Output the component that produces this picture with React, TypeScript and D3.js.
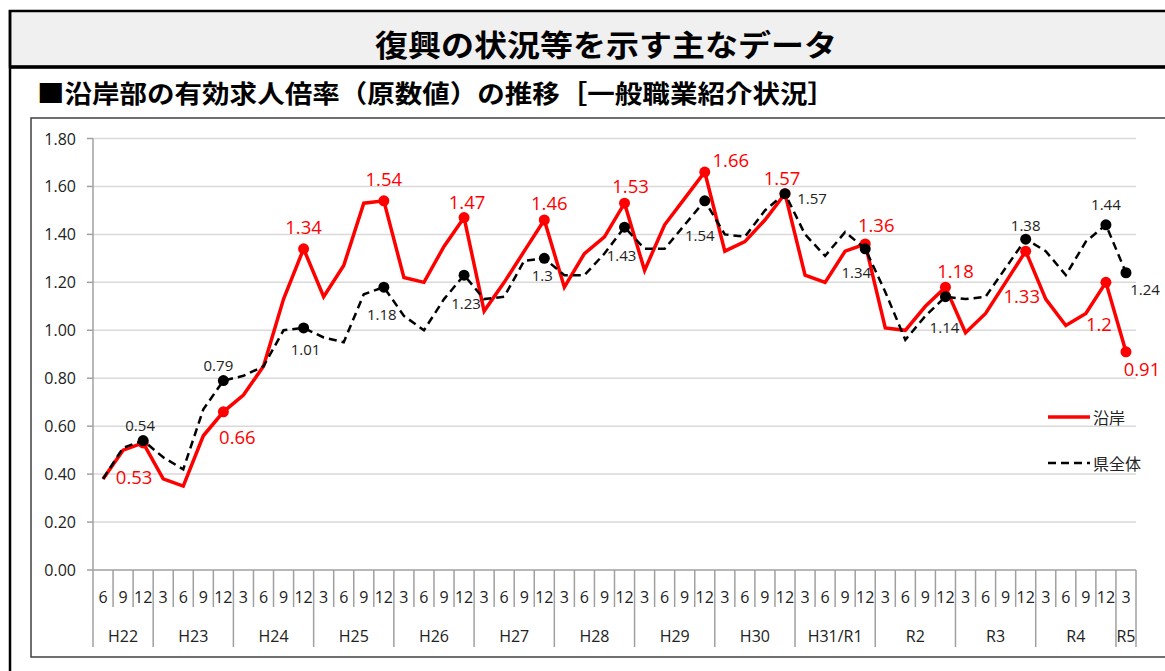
import React from "react";
import * as d3 from "d3";

// quarter labels (month) and fiscal-year groups
const yearNames = ["H22", "H23", "H24", "H25", "H26", "H27", "H28", "H29", "H30", "H31/R1", "R2", "R3", "R4", "R5"];
const yearMonths = [
  ["6", "9", "12"],
  ["3", "6", "9", "12"], ["3", "6", "9", "12"], ["3", "6", "9", "12"], ["3", "6", "9", "12"],
  ["3", "6", "9", "12"], ["3", "6", "9", "12"], ["3", "6", "9", "12"], ["3", "6", "9", "12"],
  ["3", "6", "9", "12"], ["3", "6", "9", "12"], ["3", "6", "9", "12"], ["3", "6", "9", "12"],
  ["3"],
];

// 沿岸
const coastal = [
  0.38, 0.50, 0.53,
  0.38, 0.35, 0.56, 0.66,
  0.73, 0.85, 1.13, 1.34,
  1.14, 1.27, 1.53, 1.54,
  1.22, 1.20, 1.35, 1.47,
  1.08, 1.20, 1.33, 1.46,
  1.18, 1.32, 1.39, 1.53,
  1.25, 1.44, 1.55, 1.66,
  1.33, 1.37, 1.46, 1.57,
  1.23, 1.20, 1.33, 1.36,
  1.01, 1.00, 1.10, 1.18,
  0.99, 1.07, 1.20, 1.33,
  1.13, 1.02, 1.07, 1.20,
  0.91,
];

// 県全体
const prefecture = [
  0.38, 0.51, 0.54,
  0.47, 0.42, 0.67, 0.79,
  0.81, 0.85, 1.00, 1.01,
  0.97, 0.95, 1.15, 1.18,
  1.06, 1.00, 1.13, 1.23,
  1.13, 1.14, 1.29, 1.30,
  1.23, 1.23, 1.32, 1.43,
  1.34, 1.34, 1.44, 1.54,
  1.40, 1.39, 1.50, 1.57,
  1.40, 1.31, 1.41, 1.34,
  1.16, 0.96, 1.06, 1.14,
  1.13, 1.14, 1.26, 1.38,
  1.33, 1.23, 1.37, 1.44,
  1.24,
];

// label offsets (px) for the marked points, keyed by point index
const redLabelPos: Record<number, [number, number]> = {
  2: [-9, 34], 6: [14, 25], 10: [0, -22], 14: [0, -22], 18: [3, -16], 22: [5, -18], 26: [6, -18],
  30: [26, -13], 34: [-3, -16], 38: [11, -19], 42: [10, -17], 46: [-4, 44], 50: [-7, 41], 51: [16, 17],
};
const blackLabelPos: Record<number, [number, number]> = {
  2: [-3, -16], 6: [-5, -16], 10: [2, 21], 14: [-2, 27], 18: [2, 28], 22: [-2, 17], 26: [-3, 28],
  30: [-5, 34], 34: [27, 4], 38: [-9, 23], 42: [-1, 30], 46: [0, -14], 50: [0, -21], 51: [19, 16],
};

const W = 1165, H = 671;
const plot = { left: 93, right: 1136, top: 138.5, bottom: 570 };
const font = "'Open Sans', 'Noto Sans CJK JP', sans-serif";
const jpFont = "'Noto Sans CJK JP', sans-serif";

const fmt = (v: number) => String(+v.toFixed(2));

export default function App() {
  const months = yearMonths.flat();
  const idx = months.map((_, i) => i);
  const x = d3.scaleBand<number>().domain(idx).range([plot.left, plot.right]).padding(0);
  const y = d3.scaleLinear().domain([0, 1.8]).range([plot.bottom, plot.top]);
  const cx = (i: number) => (x(i) as number) + x.bandwidth() / 2;
  const marked = idx.filter((i) => months[i] === "12" || i === months.length - 1);

  const line = d3.line<number>().x((_, i) => cx(i)).y((d) => y(d));

  // year boundaries
  const starts: number[] = [];
  let acc = 0;
  yearMonths.forEach((m) => { starts.push(acc); acc += m.length; });

  return (
    <svg width={W} height={H} style={{ position: "absolute", left: 0, top: 0, background: "#fff" }}>
      {/* title box */}
      <rect x={10} y={11} width={W + 10} height={56} fill="#f0f0f0" stroke="#000" strokeWidth={2.5} />
      <line x1={10} x2={W} y1={67} y2={67} stroke="#000" strokeWidth={3.5} />
      <line x1={10} x2={10} y1={10} y2={H} stroke="#000" strokeWidth={2.5} />
      <text x={606} y={43} textAnchor="middle" dominantBaseline="central" fontFamily={jpFont}
        fontWeight={700} fontSize={30} textLength={462} lengthAdjust="spacingAndGlyphs" fill="#000">
        復興の状況等を示す主なデータ
      </text>
      <text x={37} y={92} dominantBaseline="central" fontFamily={jpFont} fontWeight={700}
        fontSize={25} textLength={798} lengthAdjust="spacingAndGlyphs" fill="#000">
        ■沿岸部の有効求人倍率（原数値）の推移［一般職業紹介状況］
      </text>

      {/* chart frame */}
      <rect x={31} y={118} width={W} height={539} fill="#fff" stroke="#404040" strokeWidth={1.5} />

      {/* grid + y axis */}
      {y.ticks(9).map((t) => (
        <g key={t}>
          <line x1={plot.left} x2={plot.right} y1={y(t)} y2={y(t)} stroke={t === 0 ? "#a0a0a0" : "#d9d9d9"} strokeWidth={1.5} />
          <line x1={plot.left - 6} x2={plot.left} y1={y(t)} y2={y(t)} stroke="#a0a0a0" strokeWidth={1.5} />
          <text x={76} y={y(t)} textAnchor="end" dominantBaseline="central" fontFamily={font} fontSize={16} fill="#222">
            {d3.format(".2f")(t)}
          </text>
        </g>
      ))}
      <line x1={plot.left} x2={plot.left} y1={plot.top} y2={plot.bottom} stroke="#a0a0a0" strokeWidth={1.5} />

      {/* category axis */}
      {idx.map((i) => (
        <g key={"m" + i}>
          {!starts.includes(i) && (
            <line x1={x(i)} x2={x(i)} y1={plot.bottom} y2={607} stroke="#a0a0a0" strokeWidth={1.5} />
          )}
          <text x={cx(i)} y={597} textAnchor="middle" dominantBaseline="central" fontFamily={font} fontSize={16} fill="#222">
            {months[i]}
          </text>
        </g>
      ))}
      {starts.concat([months.length]).map((s) => {
        const xx = s === months.length ? plot.right : (x(s) as number);
        return <line key={"y" + s} x1={xx} x2={xx} y1={plot.bottom} y2={647} stroke="#a0a0a0" strokeWidth={1.5} />;
      })}
      {yearNames.map((n, k) => {
        const a = x(starts[k]) as number;
        const b = starts[k] + yearMonths[k].length >= months.length ? plot.right : (x(starts[k] + yearMonths[k].length) as number);
        return (
          <text key={n} x={(a + b) / 2} y={636} textAnchor="middle" dominantBaseline="central" fontFamily={font} fontSize={16} fill="#222">
            {n}
          </text>
        );
      })}

      {/* series */}
      <path d={line(coastal) || ""} fill="none" stroke="#ff0000" strokeWidth={3.5} strokeLinejoin="miter" />
      {marked.map((i) => <circle key={"rc" + i} cx={cx(i)} cy={y(coastal[i])} r={5.5} fill="#ff0000" />)}
      <path d={line(prefecture) || ""} fill="none" stroke="#000" strokeWidth={2.5} strokeDasharray="8,5" />
      {marked.map((i) => <circle key={"bc" + i} cx={cx(i)} cy={y(prefecture[i])} r={5.5} fill="#000" />)}

      {/* labels */}
      {marked.map((i) => {
        const [dx, dy] = redLabelPos[i] || [0, -18];
        return (
          <text key={"rl" + i} x={cx(i) + dx} y={y(coastal[i]) + dy} textAnchor="middle" dominantBaseline="central"
            fontFamily={font} fontSize={18.5} fill="#ff0000">
            {fmt(coastal[i])}
          </text>
        );
      })}
      {marked.map((i) => {
        const [dx, dy] = blackLabelPos[i] || [0, 18];
        return (
          <text key={"bl" + i} x={cx(i) + dx} y={y(prefecture[i]) + dy} textAnchor="middle" dominantBaseline="central"
            fontFamily={font} fontSize={15} fill="#222">
            {fmt(prefecture[i])}
          </text>
        );
      })}

      {/* legend */}
      <line x1={1048} x2={1090} y1={417} y2={417} stroke="#ff0000" strokeWidth={3.5} />
      <text x={1093} y={417} dominantBaseline="central" fontFamily={jpFont} fontSize={16} fill="#222">沿岸</text>
      <line x1={1048} x2={1090} y1={463} y2={463} stroke="#000" strokeWidth={2.5} strokeDasharray="8,5" />
      <text x={1093} y={463} dominantBaseline="central" fontFamily={jpFont} fontSize={16} fill="#222">県全体</text>
    </svg>
  );
}
